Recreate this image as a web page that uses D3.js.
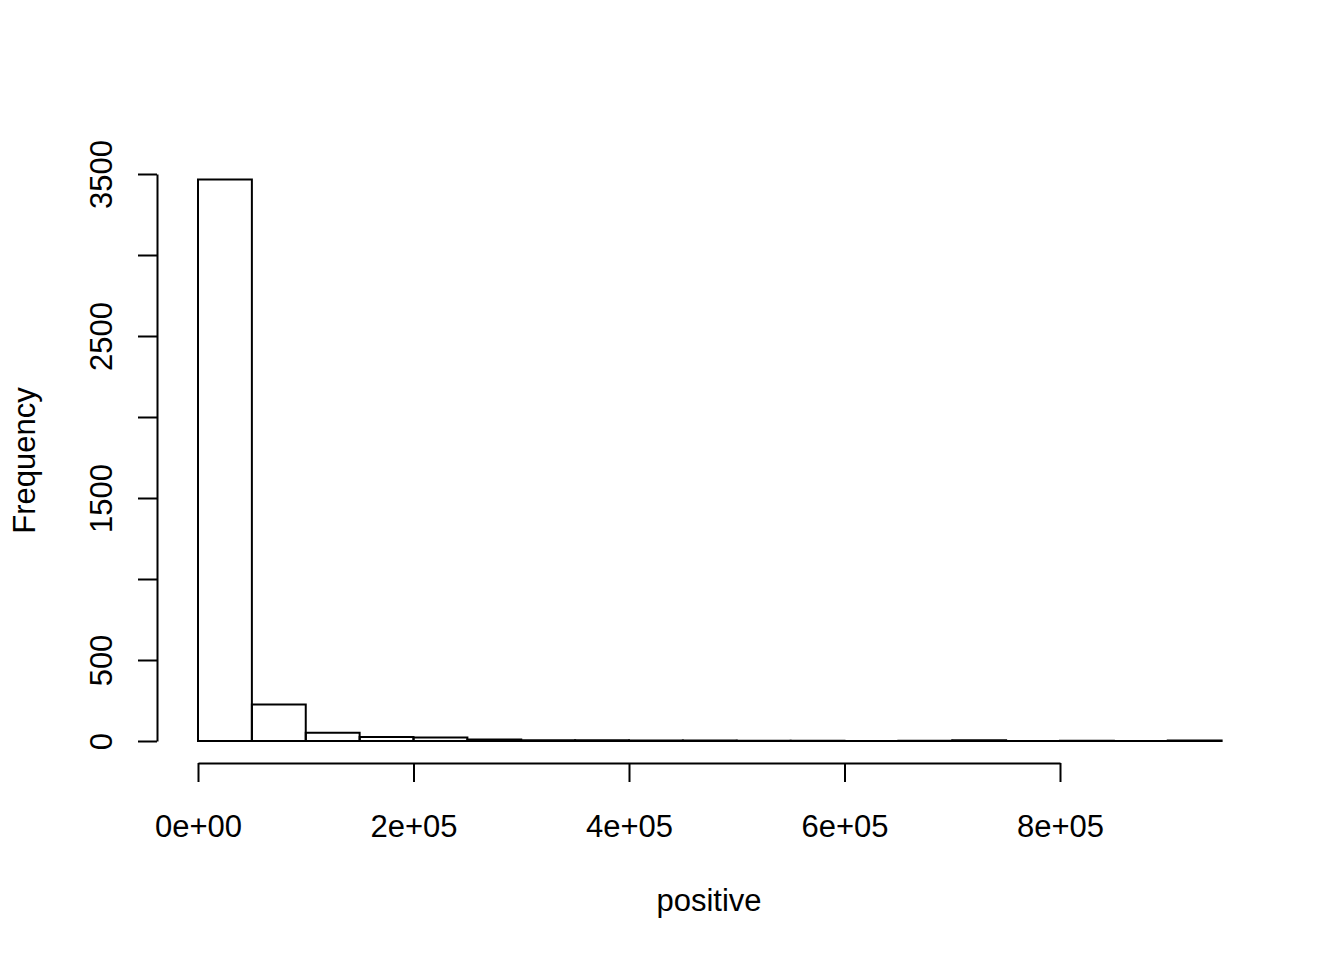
<!DOCTYPE html>
<html>
<head>
<meta charset="utf-8">
<script src="https://cdn.jsdelivr.net/npm/d3@7"></script>
<style>
  html, body { margin: 0; padding: 0; background: #fff; }
  svg { display: block; }
  text { font-family: "Liberation Sans", Arial, Helvetica, sans-serif; fill: #000; }
</style>
</head>
<body>
<svg id="chart" width="1344" height="960"></svg>
<script>
// Histogram bins (width 50,000) of "positive"
const binStarts = [0, 50000, 100000, 150000, 200000, 250000, 300000, 350000, 400000, 450000,
                   500000, 550000, 600000, 650000, 700000, 750000, 800000, 850000, 900000];
const binWidth = 50000;
const counts = [3466, 226, 51, 25, 21, 10, 5, 4, 3, 3, 2, 1, 0, 1, 5, 0, 1, 0, 3];
const xTicks = [0, 200000, 400000, 600000, 800000];
const xTickLabels = ["0e+00", "2e+05", "4e+05", "6e+05", "8e+05"];
const yTicks = [0, 500, 1000, 1500, 2000, 2500, 3000, 3500];
// R drops labels that would overlap: only every other one is shown
const yTickLabels = ["0", "500", "", "1500", "", "2500", "", "3500"];
const xLabel = "positive";
const yLabel = "Frequency";

const svg = d3.select("#chart");
const x = d3.scaleLinear().domain([0, 800000]).range([198, 1060]);
const y = d3.scaleLinear().domain([0, 3500]).range([741, 174]);
const fontSize = 31;

// Bars (drawn as closed paths so zero-count bins still show their base line)
svg.append("g").selectAll("path")
  .data(binStarts.map((s, i) => ({ s, c: counts[i] })))
  .join("path")
  .attr("d", d => {
    const x0 = x(d.s), x1 = x(d.s + binWidth), y0 = y(0), y1 = y(d.c);
    return `M${x0},${y0}L${x0},${y1}L${x1},${y1}L${x1},${y0}Z`;
  })
  .attr("fill", "none")
  .attr("stroke", "#000")
  .attr("stroke-width", 2);

// X axis
const xAxisY = 763;
const gx = svg.append("g").attr("transform", `translate(0,${xAxisY})`)
  .call(d3.axisBottom(x).tickValues(xTicks).tickFormat((d, i) => xTickLabels[i]).tickSizeInner(19).tickSizeOuter(0).tickPadding(33));
gx.select(".domain").attr("stroke", "#000").attr("stroke-width", 2);
gx.selectAll(".tick line").attr("stroke", "#000").attr("stroke-width", 2);
gx.selectAll(".tick text").attr("font-size", fontSize).attr("font-family", "Liberation Sans, Arial, sans-serif");

// Y axis
const yAxisX = 157;
const gy = svg.append("g").attr("transform", `translate(${yAxisX},0)`)
  .call(d3.axisLeft(y).tickValues(yTicks).tickFormat((d, i) => yTickLabels[i]).tickSizeInner(19).tickSizeOuter(0).tickPadding(0));
gy.select(".domain").attr("stroke", "#000").attr("stroke-width", 2);
gy.selectAll(".tick line").attr("stroke", "#000").attr("stroke-width", 2);
gy.selectAll(".tick text").remove();
gy.selectAll(".tick").append("text")
  .attr("transform", "translate(-45,0) rotate(-90)")
  .attr("text-anchor", "middle")
  .attr("font-size", fontSize)
  .attr("font-family", "Liberation Sans, Arial, sans-serif")
  .attr("fill", "#000")
  .text((d, i) => yTickLabels[i]);

// Axis titles
svg.append("text")
  .attr("x", x(0) + (1222 - 198) / 2 - 1)
  .attr("y", 911)
  .attr("text-anchor", "middle")
  .attr("font-size", fontSize)
  .text(xLabel);

svg.append("text")
  .attr("transform", `translate(35,${y(0) - (y(0) - 174) / 2 + 3}) rotate(-90)`)
  .attr("text-anchor", "middle")
  .attr("font-size", fontSize)
  .text(yLabel);
</script>
</body>
</html>
